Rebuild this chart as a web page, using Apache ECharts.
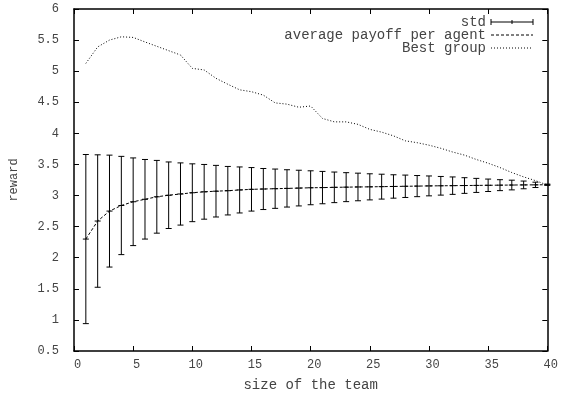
<!DOCTYPE html>
<html>
<head>
<meta charset="utf-8">
<script src="https://cdn.jsdelivr.net/npm/echarts@6/dist/echarts.min.js"></script>
<style>
  html, body { margin: 0; padding: 0; background: #fff; }
  #chart { width: 561px; height: 398px; }
</style>
</head>
<body>
<div id="chart"></div>
<script>
// Team sizes 1..40
const teamSize = [1, 2, 3, 4, 5, 6, 7, 8, 9, 10, 11, 12, 13, 14, 15, 16, 17, 18, 19, 20,
  21, 22, 23, 24, 25, 26, 27, 28, 29, 30, 31, 32, 33, 34, 35, 36, 37, 38, 39, 40];

// Mean reward per agent
const avgPayoff = [2.30, 2.59, 2.75, 2.84, 2.90, 2.94, 2.98, 3.005, 3.025, 3.045,
  3.06, 3.07, 3.078, 3.09, 3.10, 3.105, 3.11, 3.115, 3.12, 3.125,
  3.128, 3.132, 3.135, 3.138, 3.14, 3.143, 3.146, 3.149, 3.152, 3.155,
  3.157, 3.159, 3.161, 3.163, 3.165, 3.167, 3.169, 3.171, 3.172, 3.174];

// Standard deviation of the reward
const stdDev = [1.36, 1.065, 0.90, 0.79, 0.705, 0.64, 0.585, 0.535, 0.50, 0.465,
  0.44, 0.415, 0.39, 0.37, 0.35, 0.33, 0.316, 0.30, 0.287, 0.273,
  0.26, 0.246, 0.233, 0.222, 0.21, 0.20, 0.188, 0.18, 0.17, 0.16,
  0.15, 0.14, 0.126, 0.113, 0.10, 0.088, 0.078, 0.062, 0.043, 0.01];

// Reward of the best group
const bestGroup = [5.125, 5.39, 5.50, 5.553, 5.543, 5.47, 5.40, 5.33, 5.26, 5.045,
  5.02, 4.885, 4.79, 4.70, 4.67, 4.615, 4.49, 4.47, 4.42, 4.44,
  4.24, 4.185, 4.185, 4.145, 4.064, 4.02, 3.96, 3.88, 3.85, 3.81,
  3.76, 3.70, 3.65, 3.58, 3.52, 3.45, 3.37, 3.30, 3.24, 3.17];

const xTickLabels = ['0', '5', '10', '15', '20', '25', '30', '35', '40'];
const yTickLabels = ['0.5', '1', '1.5', '2', '2.5', '3', '3.5', '4', '4.5', '5', '5.5', '6'];

const seriesNames = ['std', 'average payoff per agent', 'Best group'];

const FONT = '"Liberation Mono", "DejaVu Sans Mono", monospace';
const INK = '#000';
const TEXT = '#444';

const chart = echarts.init(document.getElementById('chart'), null, { renderer: 'canvas' });

const tickCommon = { show: true, inside: true, length: 5, lineStyle: { color: INK, width: 1 } };

const xLabelFmt = v => {
  const s = String(v);
  return xTickLabels.includes(s) ? s : '';
};
const yLabelFmt = v => {
  const s = String(Math.round(v * 10) / 10);
  return yTickLabels.includes(s) ? s : '';
};

// Error bar: vertical whisker with caps and a "+" at the mean
function renderErrorBar(params, api) {
  const x = api.value(0), m = api.value(1), s = api.value(2);
  const hi = api.coord([x, m + s]);
  const lo = api.coord([x, m - s]);
  const c = api.coord([x, m]);
  const cap = 3;
  const st = { stroke: INK, lineWidth: 1 };
  return {
    type: 'group',
    children: [
      { type: 'line', shape: { x1: hi[0], y1: hi[1], x2: lo[0], y2: lo[1] }, style: st },
      { type: 'line', shape: { x1: hi[0] - cap, y1: hi[1], x2: hi[0] + cap, y2: hi[1] }, style: st },
      { type: 'line', shape: { x1: lo[0] - cap, y1: lo[1], x2: lo[0] + cap, y2: lo[1] }, style: st },
      { type: 'line', shape: { x1: c[0] - 3, y1: c[1], x2: c[0] + 3, y2: c[1] }, style: st }
    ]
  };
}

// Legend drawn as text plus line samples in the top right corner
const legendX = 486, sampleX1 = 491, sampleX2 = 533;
const legendRows = [22, 35, 48];
const legendGraphics = [];
seriesNames.forEach((name, i) => {
  legendGraphics.push({
    type: 'text', x: legendX, y: legendRows[i],
    style: { text: name, font: '14px ' + FONT, fill: TEXT, align: 'right', verticalAlign: 'middle' }
  });
});
const ly0 = legendRows[0];
const midX = (sampleX1 + sampleX2) / 2;
legendGraphics.push(
  { type: 'line', shape: { x1: sampleX1, y1: ly0, x2: sampleX2, y2: ly0 }, style: { stroke: INK, lineWidth: 1 } },
  { type: 'line', shape: { x1: sampleX1, y1: ly0 - 3, x2: sampleX1, y2: ly0 + 3 }, style: { stroke: INK, lineWidth: 1 } },
  { type: 'line', shape: { x1: sampleX2, y1: ly0 - 3, x2: sampleX2, y2: ly0 + 3 }, style: { stroke: INK, lineWidth: 1 } },
  { type: 'line', shape: { x1: midX, y1: ly0 - 2, x2: midX, y2: ly0 + 2 }, style: { stroke: INK, lineWidth: 1 } },
  { type: 'line', shape: { x1: sampleX1, y1: legendRows[1], x2: sampleX2, y2: legendRows[1] }, style: { stroke: INK, lineWidth: 1, lineDash: [3, 2] } },
  { type: 'line', shape: { x1: sampleX1, y1: legendRows[2], x2: sampleX2, y2: legendRows[2] }, style: { stroke: INK, lineWidth: 1, lineDash: [1, 2] } }
);

const option = {
  backgroundColor: '#fff',
  animation: false,
  grid: { left: 71, right: 11, top: 9, bottom: 47, containLabel: false },
  xAxis: [
    {
      type: 'value', min: 0, max: 40, interval: 5,
      name: 'size of the team', nameLocation: 'middle', nameGap: 27,
      nameTextStyle: { fontFamily: FONT, fontSize: 14, color: TEXT },
      axisLine: { show: true, onZero: false, lineStyle: { color: INK, width: 1.5 } },
      axisTick: tickCommon,
      axisLabel: { formatter: xLabelFmt, fontFamily: FONT, fontSize: 12, color: TEXT, margin: 8, padding: [0, 0, 0, 7] },
      splitLine: { show: false }
    },
    {
      type: 'value', min: 0, max: 40, interval: 5, position: 'top',
      axisLine: { show: true, onZero: false, lineStyle: { color: INK, width: 1.5 } },
      axisTick: tickCommon, axisLabel: { show: false }, splitLine: { show: false }
    }
  ],
  yAxis: [
    {
      type: 'value', min: 0.5, max: 6, interval: 0.5,
      name: 'reward', nameLocation: 'middle', nameGap: 54, nameRotate: 90,
      nameTextStyle: { fontFamily: FONT, fontSize: 12, color: TEXT },
      axisLine: { show: true, onZero: false, lineStyle: { color: INK, width: 1.5 } },
      axisTick: tickCommon,
      axisLabel: { formatter: yLabelFmt, fontFamily: FONT, fontSize: 12, color: TEXT, margin: 15 },
      splitLine: { show: false }
    },
    {
      type: 'value', min: 0.5, max: 6, interval: 0.5, position: 'right',
      axisLine: { show: true, onZero: false, lineStyle: { color: INK, width: 1.5 } },
      axisTick: tickCommon, axisLabel: { show: false }, splitLine: { show: false }
    }
  ],
  graphic: legendGraphics,
  series: [
    {
      name: seriesNames[0], type: 'custom', xAxisIndex: 0, yAxisIndex: 0,
      renderItem: renderErrorBar,
      data: teamSize.map((x, i) => [x, avgPayoff[i], stdDev[i]]),
      encode: { x: 0, y: [1] }, clip: false, z: 3
    },
    {
      name: seriesNames[1], type: 'line', xAxisIndex: 0, yAxisIndex: 0,
      data: teamSize.map((x, i) => [x, avgPayoff[i]]),
      showSymbol: false, symbol: 'none',
      lineStyle: { color: INK, width: 1, type: [3, 2] }, z: 2
    },
    {
      name: seriesNames[2], type: 'line', xAxisIndex: 0, yAxisIndex: 0,
      data: teamSize.map((x, i) => [x, bestGroup[i]]),
      showSymbol: false, symbol: 'none',
      lineStyle: { color: INK, width: 1, type: [1, 2] }, z: 2
    }
  ]
};

chart.setOption(option);
</script>
</body>
</html>
